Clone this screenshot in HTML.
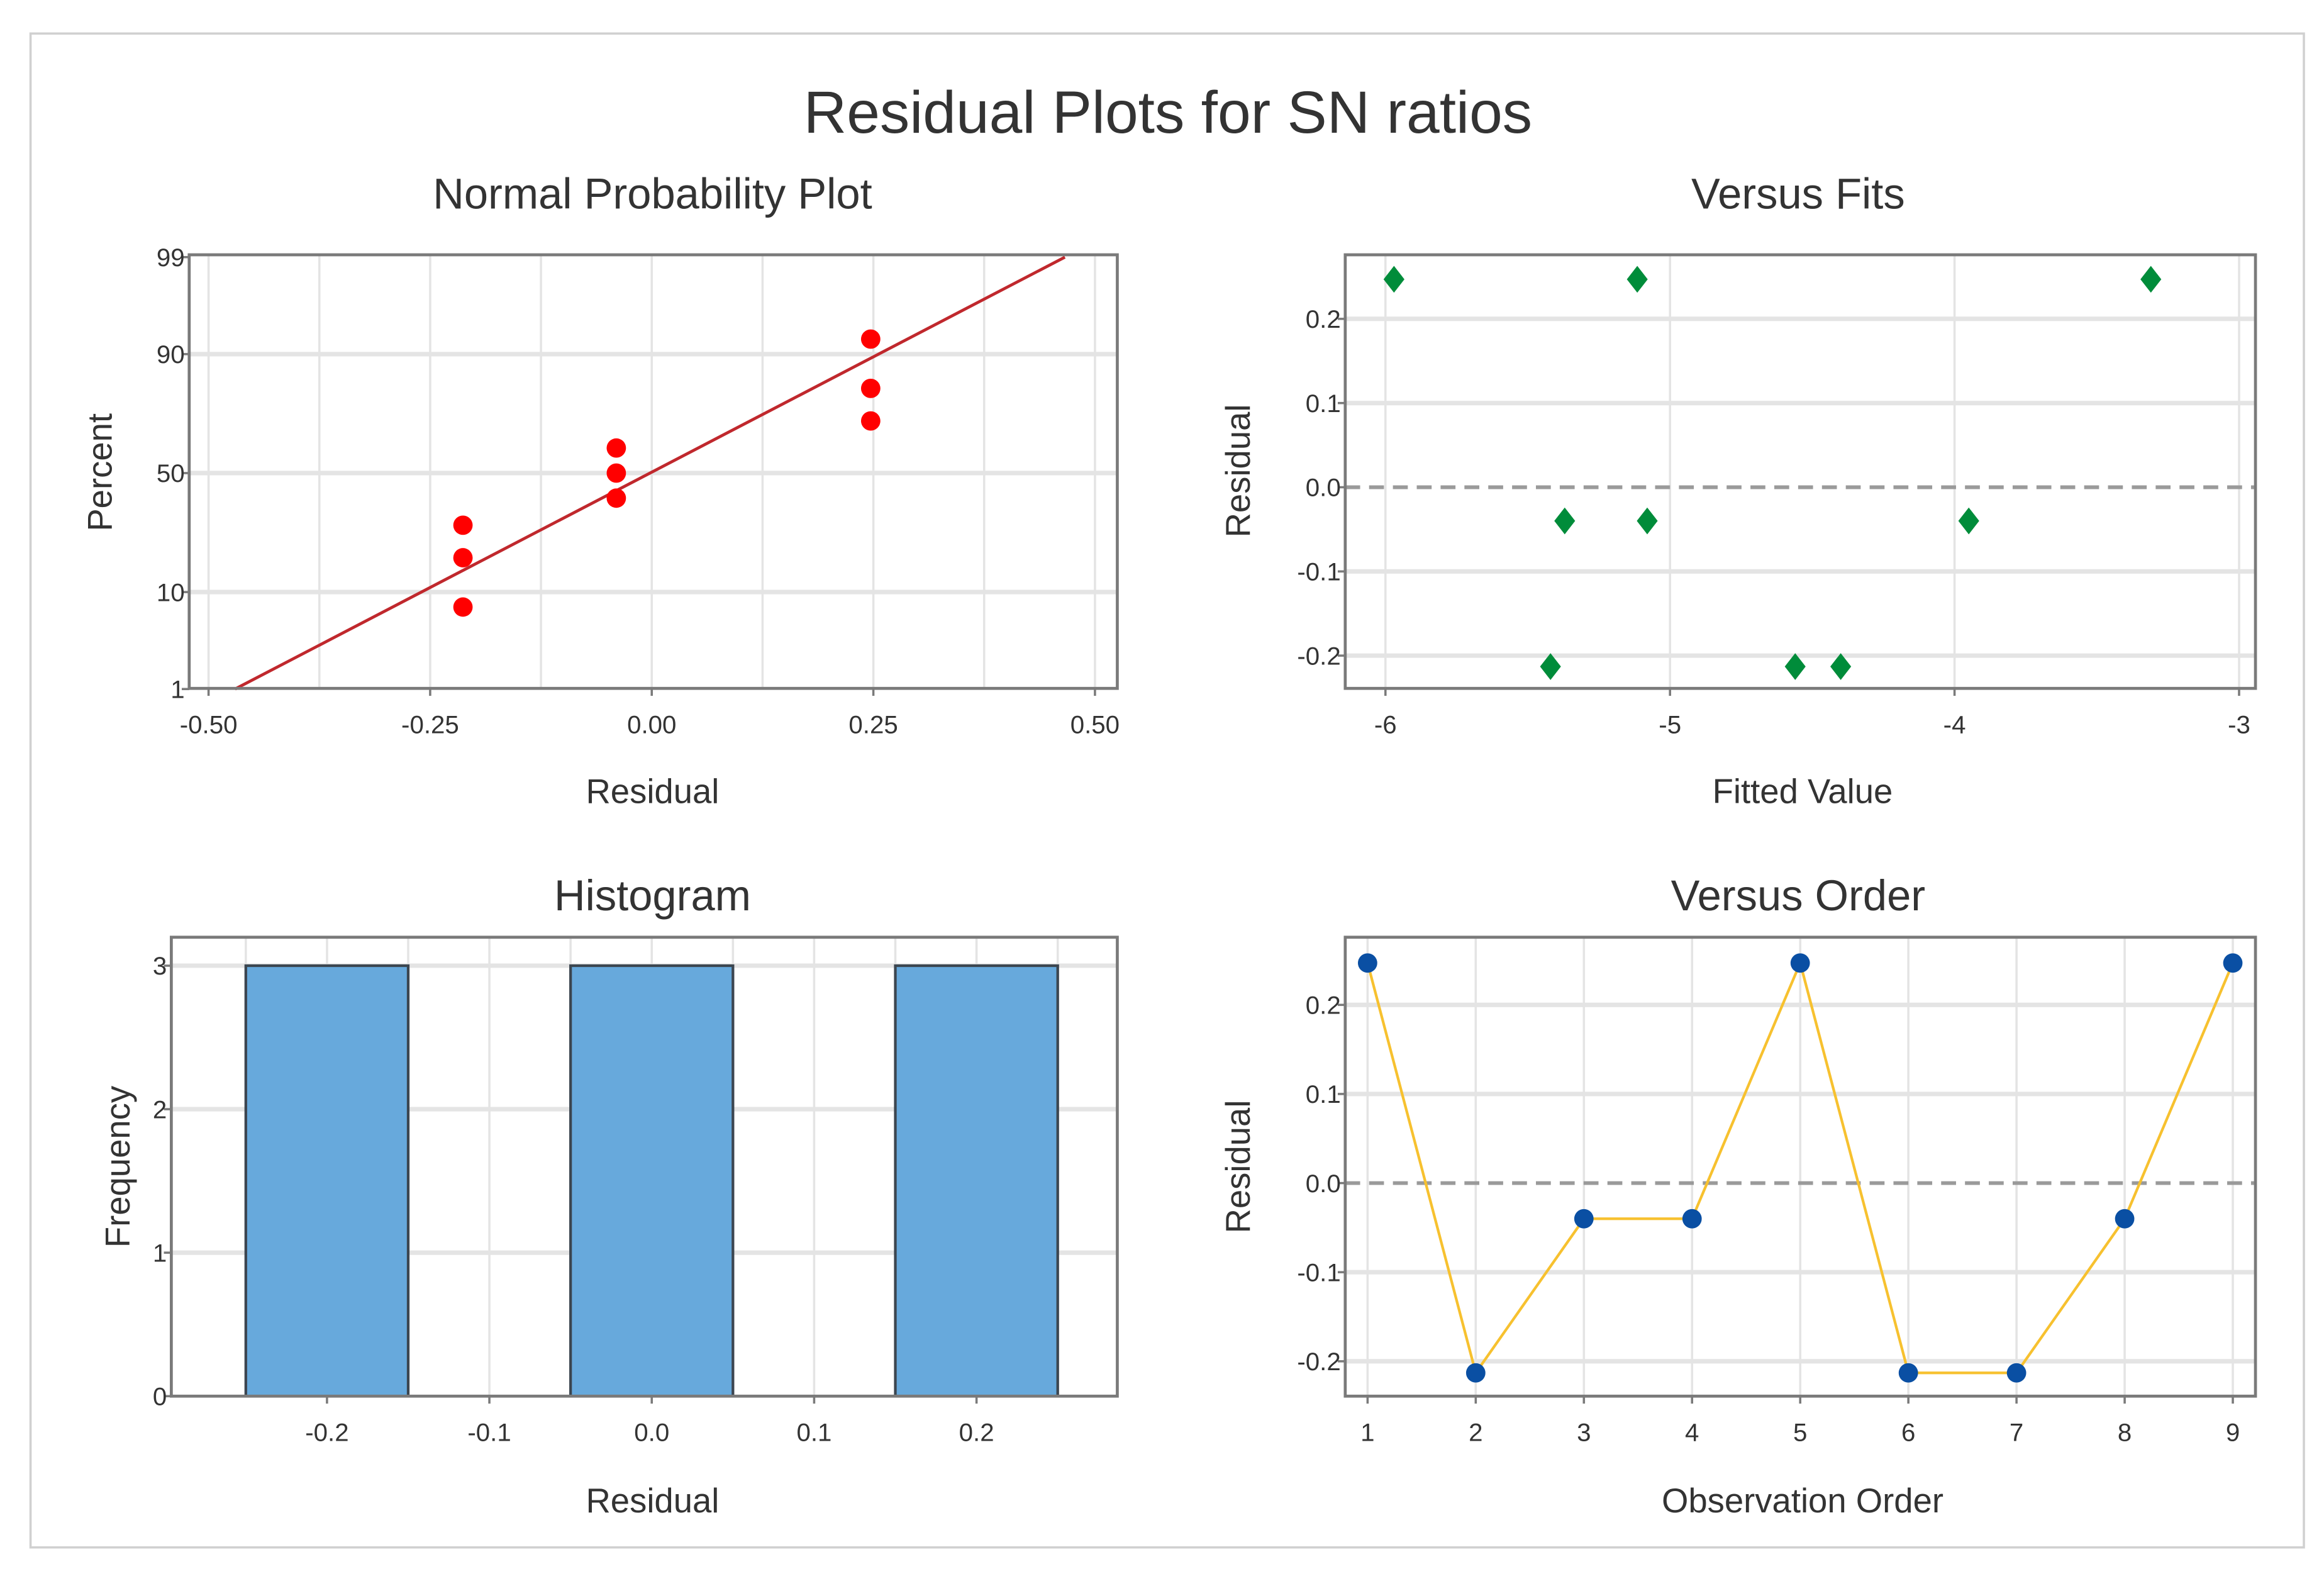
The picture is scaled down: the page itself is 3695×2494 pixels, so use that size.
<!DOCTYPE html>
<html><head><meta charset="utf-8"><style>
html,body{margin:0;padding:0;background:#fff;}
svg{display:block;font-family:"Liberation Sans",sans-serif;}
</style></head><body>
<svg id="chart" width="3695" height="2494" viewBox="0 0 1560 1053" preserveAspectRatio="none" xmlns="http://www.w3.org/2000/svg">
<rect x="0" y="0" width="1560" height="1053" fill="#fff"/>
<rect x="20.5" y="22.5" width="1526" height="1016" fill="none" stroke="#d0d0d0" stroke-width="1.5"/>
<text x="784" y="89" text-anchor="middle" font-size="40" fill="#333">Residual Plots for SN ratios</text>
</svg>
<script>
// ---- data ----
const residuals = [0.247, -0.213, -0.04, -0.04, 0.247, -0.213, -0.213, -0.04, 0.247];
const fittedValues = [-5.97, -5.42, -5.37, -5.08, -5.115, -4.56, -4.40, -3.95, -3.31];
const fitResiduals = [0.247, -0.213, -0.04, -0.04, 0.247, -0.213, -0.213, -0.04, 0.247];
const nppTicksX = [-0.5, -0.25, 0, 0.25, 0.5];
const nppTickLabelsX = ["-0.50", "-0.25", "0.00", "0.25", "0.50"];
const nppTicksY = [1, 10, 50, 90, 99];
const fitsTicksX = [-6, -5, -4, -3];
const residTicksY = [-0.2, -0.1, 0.0, 0.1, 0.2];
const residTickLabelsY = ["-0.2", "-0.1", "0.0", "0.1", "0.2"];
const histBinCenters = [-0.2, -0.1, 0.0, 0.1, 0.2];
const histCounts = [3, 0, 3, 0, 3];
const histTicksY = [0, 1, 2, 3];
const histTickLabelsX = ["-0.2", "-0.1", "0.0", "0.1", "0.2"];
const orderTicks = [1, 2, 3, 4, 5, 6, 7, 8, 9];

const NS = "http://www.w3.org/2000/svg";
const svg = document.getElementById('chart');
function mk(tag, attrs, parent) {
  const e = document.createElementNS(NS, tag);
  for (const k in attrs) e.setAttribute(k, attrs[k]);
  (parent || svg).appendChild(e);
  return e;
}
function txt(s, attrs, parent) { const t = mk('text', attrs, parent); t.textContent = s; return t; }

function probit(p) {
  const a=[-39.6968302866538,220.946098424521,-275.928510446969,138.357751867269,-30.6647980661472,2.50662827745924];
  const b=[-54.4760987982241,161.585836858041,-155.698979859887,66.8013118877197,-13.2806815528857];
  const c=[-0.00778489400243029,-0.322396458041136,-2.40075827716184,-2.54973253934373,4.37466414146497,2.93816398269878];
  const d=[0.00778469570904146,0.32246712907004,2.445134137143,3.75440866190742];
  let q,r;
  if (p<0.02425){q=Math.sqrt(-2*Math.log(p));return (((((c[0]*q+c[1])*q+c[2])*q+c[3])*q+c[4])*q+c[5])/((((d[0]*q+d[1])*q+d[2])*q+d[3])*q+1);}
  if (p>1-0.02425){q=Math.sqrt(-2*Math.log(1-p));return -(((((c[0]*q+c[1])*q+c[2])*q+c[3])*q+c[4])*q+c[5])/((((d[0]*q+d[1])*q+d[2])*q+d[3])*q+1);}
  q=p-0.5;r=q*q;return (((((a[0]*r+a[1])*r+a[2])*r+a[3])*r+a[4])*r+a[5])*q/(((((b[0]*r+b[1])*r+b[2])*r+b[3])*r+b[4])*r+1);
}

const GRID = '#e4e4e4', FRAME = '#7a7a7a', TICKC = '#333';
function panel(name, title, titleX, titleY) {
  const g = mk('g', {});
  
  
  const t = txt(title, {x: titleX, y: titleY, 'text-anchor': 'middle', 'font-size': 29, fill: '#333'}, g);
  
  
  return g;
}
function frame(g, box, name) {
  const r = mk('rect', {x: box.x, y: box.y, width: box.w, height: box.h, fill: 'none', stroke: FRAME, 'stroke-width': 2}, g);
  
  
}
function vgrid(g, x, box) { if (x < box.x || x > box.x + box.w) return; mk('line', {x1: x, x2: x, y1: box.y, y2: box.y + box.h, stroke: GRID, 'stroke-width': 1.5}, g); }
function hgrid(g, y, box) { mk('line', {x1: box.x, x2: box.x + box.w, y1: y, y2: y, stroke: GRID, 'stroke-width': 3}, g); }
function xtick(g, x, box, label, name) {
  mk('line', {x1: x, x2: x, y1: box.y + box.h, y2: box.y + box.h + 5, stroke: FRAME, 'stroke-width': 1.5}, g);
  const t = txt(label, {x: x, y: box.y + box.h + 30, 'text-anchor': 'middle', 'font-size': 17, fill: TICKC}, g);
  
  
}
function ytick(g, y, box, label, name) {
  mk('line', {x1: box.x - 5, x2: box.x, y1: y, y2: y, stroke: FRAME, 'stroke-width': 1.5}, g);
  const t = txt(label, {x: box.x - 3, y: y + 6, 'text-anchor': 'end', 'font-size': 17, fill: TICKC}, g);
  
  
}
function xlabel(g, s, x, y, name) {
  const t = txt(s, {x: x, y: y, 'text-anchor': 'middle', 'font-size': 23, fill: '#333'}, g);
  
  
}
function ylabel(g, s, x, y, name) {
  const t = txt(s, {x: x, y: y, 'text-anchor': 'middle', 'font-size': 23, fill: '#333', transform: 'rotate(-90 ' + x + ' ' + y + ')'}, g);
  
  
}

// ---- Normal probability plot ----
(function () {
  const box = {x: 127, y: 171, w: 623, h: 291};
  const sx = v => 437.5 + v * 595;
  const sy = p => 317.5 - probit(p / 100) * 62.3;
  const g = panel('normal-probability-plot', 'Normal Probability Plot', 438, 140);
  nppTicksX.forEach(v => { vgrid(g, sx(v), box); vgrid(g, sx(v + 0.125), box); });
  nppTicksY.forEach(v => { if (v !== 1 && v !== 99) hgrid(g, sy(v), box); });
  const n = residuals.length;
  const mean = residuals.reduce((a, b) => a + b, 0) / n;
  const sd = Math.sqrt(residuals.reduce((a, b) => a + (b - mean) * (b - mean), 0) / (n - 1));
  const l = mk('line', {x1: sx(mean + probit(0.01) * sd), y1: sy(1), x2: sx(mean + probit(0.99) * sd), y2: sy(99), stroke: '#c0282d', 'stroke-width': 2}, g);
  
  
  const sorted = residuals.slice().sort((a, b) => a - b);
  sorted.forEach((r, i) => {
    const p = (i + 1 - 0.3) / (n + 0.4) * 100;
    const c = mk('ellipse', {cx: sx(r), cy: sy(p), rx: 6.5, ry: 6.5, fill: '#ff0000'}, g);
    
    
  });
  frame(g, box, 'npp');
  nppTicksX.forEach((v, i) => xtick(g, sx(v), box, nppTickLabelsX[i], 'npp-x-tick-label'));
  nppTicksY.forEach(v => ytick(g, sy(v), box, String(v), 'npp-y-tick-label'));
  xlabel(g, 'Residual', 438, 539, 'npp-x-axis-title');
  ylabel(g, 'Percent', 75, 317, 'npp-y-axis-title');
})();

// ---- Versus Fits ----
(function () {
  const box = {x: 903, y: 171, w: 611, h: 291};
  const sx = v => 930 + (v + 6) * 191;
  const sy = v => 327 - v * 565;
  const g = panel('versus-fits-plot', 'Versus Fits', 1207, 140);
  fitsTicksX.forEach(v => vgrid(g, sx(v), box));
  residTicksY.forEach(v => { if (v !== 0) hgrid(g, sy(v), box); });
  const z = mk('line', {x1: box.x, x2: box.x + box.w, y1: sy(0), y2: sy(0), stroke: '#9a9a9a', 'stroke-width': 2.5, 'stroke-dasharray': '10 6'}, g);
  
  
  fittedValues.forEach((f, i) => {
    const x = sx(f), y = sy(fitResiduals[i]);
    const d = mk('polygon', {points: `${x},${y-9} ${x+7},${y} ${x},${y+9} ${x-7},${y}`, fill: '#008c3a'}, g);
    
    
  });
  frame(g, box, 'fits');
  fitsTicksX.forEach(v => xtick(g, sx(v), box, String(v), 'fits-x-tick-label'));
  residTicksY.forEach((v, i) => ytick(g, sy(v), box, residTickLabelsY[i], 'fits-y-tick-label'));
  xlabel(g, 'Fitted Value', 1210, 539, 'fits-x-axis-title');
  ylabel(g, 'Residual', 839, 316, 'fits-y-axis-title');
})();

// ---- Histogram ----
(function () {
  const box = {x: 115, y: 629, w: 635, h: 308};
  const sx = v => 437.5 + v * 1090;
  const sy = v => 937 - v * 96.3;
  const g = panel('histogram-plot', 'Histogram', 438, 611);
  histBinCenters.forEach(v => { vgrid(g, sx(v), box); vgrid(g, sx(v + 0.05), box); });
  vgrid(g, sx(-0.25), box);
  histTicksY.forEach(v => { if (v > 0) hgrid(g, sy(v), box); });
  histBinCenters.forEach((c, i) => {
    if (histCounts[i] <= 0) return;
    const b = mk('rect', {x: sx(c - 0.05), y: sy(histCounts[i]), width: sx(c + 0.05) - sx(c - 0.05), height: sy(0) - sy(histCounts[i]), fill: '#67a9dc', stroke: '#3c4650', 'stroke-width': 1.8}, g);
    
    
  });
  frame(g, box, 'hist');
  histBinCenters.forEach((v, i) => xtick(g, sx(v), box, histTickLabelsX[i], 'hist-x-tick-label'));
  histTicksY.forEach(v => ytick(g, sy(v), box, String(v), 'hist-y-tick-label'));
  xlabel(g, 'Residual', 438, 1015, 'hist-x-axis-title');
  ylabel(g, 'Frequency', 87, 783, 'hist-y-axis-title');
})();

// ---- Versus Order ----
(function () {
  const box = {x: 903, y: 629, w: 611, h: 308};
  const sx = v => 918 + (v - 1) * 72.6;
  const sy = v => 794 - v * 598;
  const g = panel('versus-order-plot', 'Versus Order', 1207, 611);
  orderTicks.forEach(v => vgrid(g, sx(v), box));
  residTicksY.forEach(v => { if (v !== 0) hgrid(g, sy(v), box); });
  const z = mk('line', {x1: box.x, x2: box.x + box.w, y1: sy(0), y2: sy(0), stroke: '#9a9a9a', 'stroke-width': 2.5, 'stroke-dasharray': '10 6'}, g);
  
  
  const pts = residuals.map((r, i) => sx(i + 1) + ',' + sy(r)).join(' ');
  const pl = mk('polyline', {points: pts, fill: 'none', stroke: '#f7c12f', 'stroke-width': 1.8}, g);
  
  
  residuals.forEach((r, i) => {
    const c = mk('circle', {cx: sx(i + 1), cy: sy(r), r: 6.5, fill: '#0a4fa3'}, g);
    
    
  });
  frame(g, box, 'order');
  orderTicks.forEach(v => xtick(g, sx(v), box, String(v), 'order-x-tick-label'));
  residTicksY.forEach((v, i) => ytick(g, sy(v), box, residTickLabelsY[i], 'order-y-tick-label'));
  xlabel(g, 'Observation Order', 1210, 1015, 'order-x-axis-title');
  ylabel(g, 'Residual', 839, 783, 'order-y-axis-title');
})();
</script>
</body></html>
